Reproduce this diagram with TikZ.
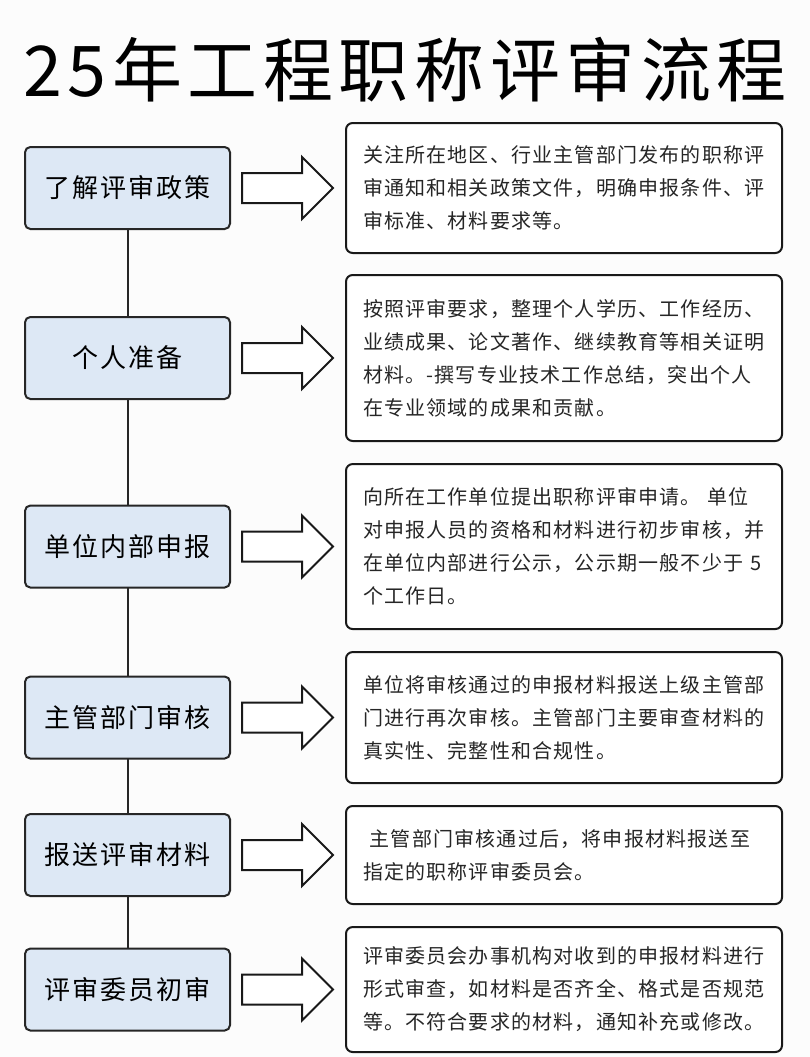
\documentclass[tikz,border=0pt]{standalone}
\usepackage{fontspec}
\usepackage{tikz}
\usetikzlibrary{positioning,shapes.arrows}
\newfontfamily\cjktitle[LetterSpace=8]{Noto Sans CJK SC}
\newfontfamily\cjkstage[LetterSpace=8]{Noto Sans CJK SC}
\newfontfamily\cjkbody[LetterSpace=6]{Noto Sans CJK SC}
\definecolor{stagefill}{RGB}{221,232,245}

\begin{document}
\begin{tikzpicture}[x=0.75pt, y=-0.75pt,
  stage/.style={draw=black!85, line width=1.5pt, rounded corners=4pt, fill=stagefill, minimum width=153.75pt, minimum height=61.5pt, inner sep=0pt, outer sep=0pt, font=\fontsize{19.5}{24}\cjkstage},
  note/.style={draw=black!90, line width=1.5pt, rounded corners=5pt, fill=white, text width=301.5pt, inner xsep=12.75pt, inner ysep=0pt, outer sep=0pt, align=left, text=black!85, font=\fontsize{15}{24.75}\cjkbody},
  bigarr/.style={single arrow, draw=black!90, line width=1.5pt, fill=white, minimum height=68.25pt, minimum width=0pt, inner xsep=0pt, inner ysep=10.5pt, outer sep=0pt, single arrow head extend=12pt},
  link/.style={draw=black!85, line width=1.5pt}, node distance=9pt]
\fill[white!98!gray] (0,0) rectangle (810,1057);
\useasboundingbox (0,0) rectangle (810,1057);
\node[font=\fontsize{52.5}{60}\cjktitle] (title) at (405,70) {25年工程职称评审流程};
% steps on the left
\node[stage] (s1) at (127.5,188) {了解评审政策};
\node[stage, below=66pt of s1] (s2) {个人准备};
\node[stage, below=79.9pt of s2] (s3) {单位内部申报};
\node[stage, below=66.75pt of s3] (s4) {主管部门审核};
\node[stage, below=41.6pt of s4] (s5) {报送评审材料};
\node[stage, below=39.4pt of s5] (s6) {评审委员初审};
\draw[link] (s1) -- (s2); \draw[link] (s2) -- (s3); \draw[link] (s3) -- (s4); \draw[link] (s4) -- (s5); \draw[link] (s5) -- (s6);
% block arrows
\node[bigarr, right=of s1] (a1) {};
\node[bigarr, right=of s2] (a2) {};
\node[bigarr, right=of s3] (a3) {};
\node[bigarr, right=of s4] (a4) {};
\node[bigarr, right=of s5] (a5) {};
\node[bigarr, right=of s6] (a6) {};
% details
\node[note, right=9.75pt of a1, minimum height=97.5pt] (n1) {关注所在地区、行业主管部门发布的职称评\\审通知和相关政策文件，明确申报条件、评\\审标准、材料要求等。};
\node[note, right=9.75pt of a2, minimum height=124.5pt] (n2) {按照评审要求，整理个人学历、工作经历、\\业绩成果、论文著作、继续教育等相关证明\\材料。-撰写专业技术工作总结，突出个人\\在专业领域的成果和贡献。};
\node[note, right=9.75pt of a3, minimum height=123.75pt] (n3) {向所在工作单位提出职称评审申请。 单位\\对申报人员的资格和材料进行初步审核，并\\在单位内部进行公示，公示期一般不少于 5\\个工作日。};
\node[note, right=9.75pt of a4, minimum height=98.25pt] (n4) {单位将审核通过的申报材料报送上级主管部\\门进行再次审核。主管部门主要审查材料的\\真实性、完整性和合规性。};
\node[note, right=9.75pt of a5, minimum height=73.5pt] (n5) {\hspace{5pt}主管部门审核通过后，将申报材料报送至\\指定的职称评审委员会。};
\node[note, right=9.75pt of a6, minimum height=93.75pt] (n6) {评审委员会办事机构对收到的申报材料进行\\形式审查，如材料是否齐全、格式是否规范\\等。不符合要求的材料，通知补充或修改。};
\end{tikzpicture}
\end{document}
